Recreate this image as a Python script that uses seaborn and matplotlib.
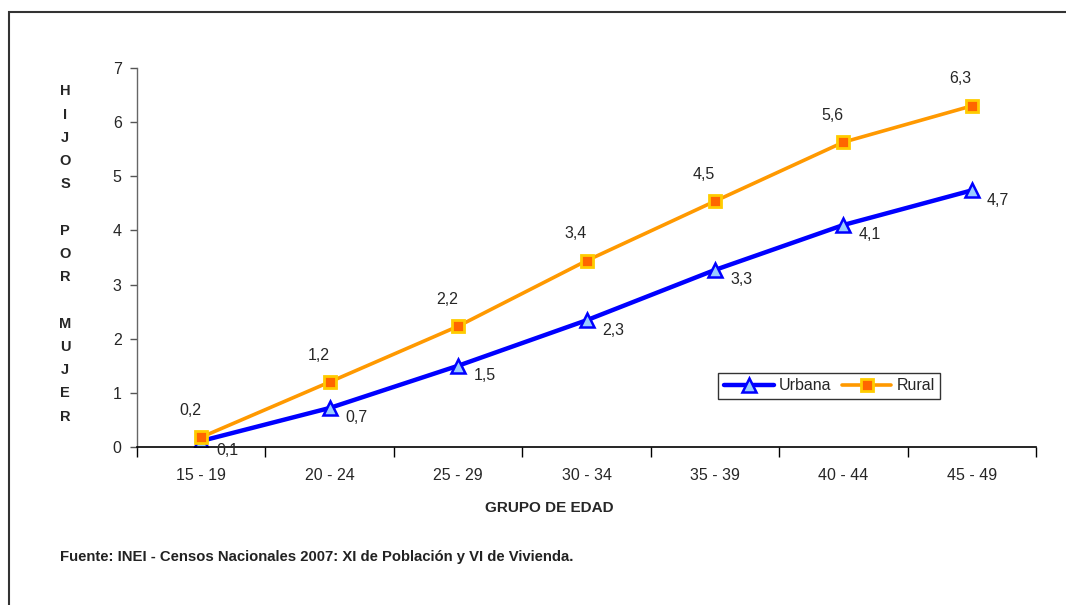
import pandas as pd
import numpy as np
import matplotlib.pyplot as plt
import seaborn as sns
from matplotlib.patches import Rectangle

# Data
grupos = ["15 - 19", "20 - 24", "25 - 29", "30 - 34", "35 - 39", "40 - 44", "45 - 49"]
urbana = [0.11, 0.72, 1.50, 2.34, 3.27, 4.10, 4.74]
rural = [0.18, 1.20, 2.23, 3.44, 4.54, 5.63, 6.30]

df = pd.DataFrame({
    "grupo": grupos * 2,
    "hijos": urbana + rural,
    "area": ["Urbana"] * len(grupos) + ["Rural"] * len(grupos),
})

sns.set_style("white")
plt.rcParams["font.family"] = ["Liberation Sans Narrow", "Liberation Sans", "DejaVu Sans"]

fig = plt.figure(figsize=(10.66, 6.05), dpi=100)
ax = fig.add_axes([0.1285, 0.2612, 0.8434, 0.6264])

styles = {
    "Urbana": dict(color="#0000FF", lw=3.2, marker="^", mfc="#99CCFF", mec="#0000FF", ms=10, mew=1.8),
    "Rural": dict(color="#FF9900", lw=2.6, marker="s", mfc="#FF6600", mec="#FFCC00", ms=9, mew=2),
}
for area in ["Urbana", "Rural"]:
    sub = df[df["area"] == area]
    st = styles[area]
    sns.lineplot(data=sub, x="grupo", y="hijos", ax=ax, color=st["color"], linewidth=st["lw"],
                 marker=st["marker"], markerfacecolor=st["mfc"], markeredgecolor=st["mec"],
                 markersize=st["ms"], markeredgewidth=st["mew"], label=area, sort=False)

# data labels
for i, v in enumerate(urbana):
    ax.annotate(f"{v:.1f}".replace(".", ","), (i, v), xytext=(11, -7), textcoords="offset points",
                ha="left", va="center", fontsize=11.5)
for i, v in enumerate(rural):
    ax.annotate(f"{v:.1f}".replace(".", ","), (i, v), xytext=(-8, 14), textcoords="offset points",
                ha="center", va="bottom", fontsize=11.5)

ax.set_xlim(-0.5, len(grupos) - 0.5)
ax.set_ylim(0, 7)
ax.set_yticks(range(0, 8))
ax.set_xticks(range(len(grupos)))
ax.set_xticklabels(grupos, fontsize=11.5)
ax.tick_params(axis="y", labelsize=11.5, length=5, width=1, color="#555555", direction="out", left=True, pad=6)
ax.tick_params(axis="x", which="major", length=0, pad=15)
ax.set_xticks(np.arange(-0.5, len(grupos)), minor=True)
ax.tick_params(axis="x", which="minor", length=7, width=1, color="black", direction="out", bottom=True)
ax.set_xlabel("")
ax.set_ylabel("")

for s in ["top", "right"]:
    ax.spines[s].set_visible(False)
ax.spines["left"].set_color("#666666")
ax.spines["bottom"].set_color("black")
ax.spines["left"].set_linewidth(1)
ax.spines["bottom"].set_linewidth(1.2)

leg = ax.legend(loc="center", bbox_to_anchor=(0.770, 0.161), ncol=2, frameon=True, fancybox=False,
                edgecolor="black", fontsize=11.5, handlelength=3.1, columnspacing=0.7,
                handletextpad=0.3, borderpad=0.35)
leg.get_frame().set_linewidth(1)

# stacked vertical y label
letras = "H\nI\nJ\nO\nS\n \nP\nO\nR\n \nM\nU\nJ\nE\nR"
fig.text(65 / 1066, 1 - 254 / 605, letras, ha="center", va="center", fontsize=10.5,
         fontweight="bold", linespacing=1.84)

fig.text(549 / 1066, 1 - 508 / 605, "GRUPO DE EDAD", ha="center", va="center", fontsize=11, fontweight="bold")
fig.text(60 / 1066, 1 - 557 / 605, "Fuente: INEI - Censos Nacionales 2007: XI de Población y VI de Vivienda.",
         ha="left", va="center", fontsize=10.7, fontweight="bold", color="#222222")

# outer frame (only left and top edges visible in the reference)
fig.patches.append(Rectangle((8.5 / 1066, -0.1), 1.2, 1.1 - 11.5 / 605, transform=fig.transFigure,
                             fill=False, edgecolor="#333333", linewidth=1.5))

fig.savefig("out.png", dpi=100)
